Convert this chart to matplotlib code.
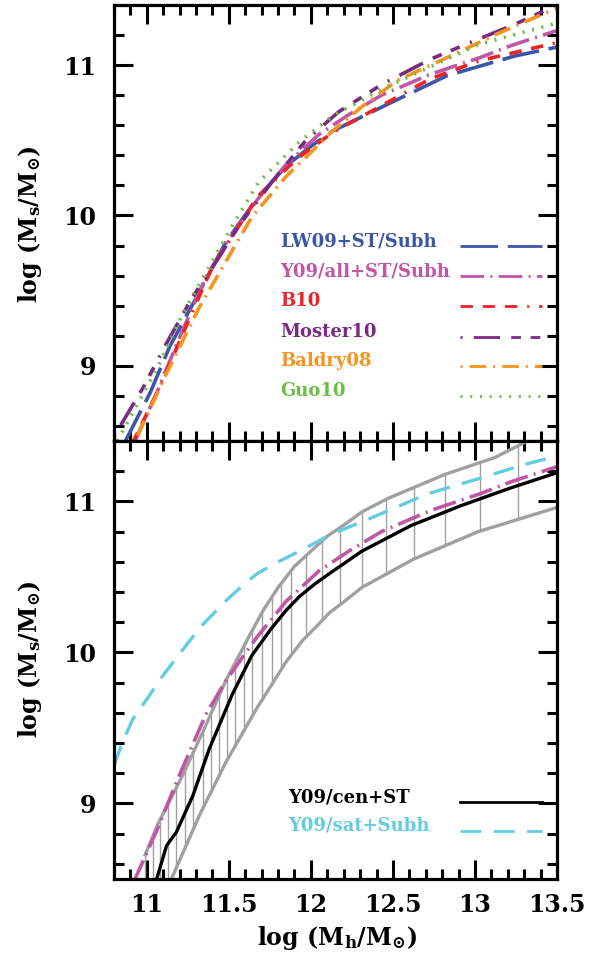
import numpy as np
import matplotlib
matplotlib.use("Agg")
import matplotlib.pyplot as plt
from matplotlib.ticker import MultipleLocator

# ---------------- data ----------------
# top panel
lw09_x = [10.86, 11.02, 11.14, 11.32, 11.48, 11.67, 11.85, 12.0, 12.13, 12.43, 12.83, 13.24, 13.5]
lw09_y = [8.48, 8.82, 9.13, 9.49, 9.82, 10.11, 10.33, 10.46, 10.56, 10.72, 10.93, 11.06, 11.12]

y09all_x = [10.92, 11.06, 11.20, 11.36, 11.48, 11.67, 11.85, 12.05, 12.23, 12.43, 12.73, 13.03, 13.22, 13.5]
y09all_y = [8.48, 8.82, 9.19, 9.59, 9.81, 10.10, 10.34, 10.54, 10.67, 10.80, 10.94, 11.05, 11.13, 11.23]

b10_x = [10.91, 11.08, 11.25, 11.40, 11.68, 11.85, 11.93, 12.13, 12.43, 12.73, 13.03, 13.5]
b10_y = [8.48, 8.86, 9.29, 9.66, 10.13, 10.31, 10.39, 10.55, 10.73, 10.91, 11.03, 11.15]

moster_x = [10.8, 10.98, 11.12, 11.28, 11.38, 11.56, 11.76, 11.97, 12.17, 12.43, 12.73, 12.97, 13.24, 13.5]
moster_y = [8.53, 8.86, 9.15, 9.46, 9.62, 9.93, 10.22, 10.50, 10.69, 10.87, 11.04, 11.15, 11.27, 11.40]

baldry_x = [10.92, 11.12, 11.32, 11.48, 11.64, 11.85, 12.0, 12.13, 12.33, 12.53, 12.83, 13.14, 13.5]
baldry_y = [8.48, 8.95, 9.39, 9.69, 9.99, 10.26, 10.42, 10.56, 10.74, 10.90, 11.05, 11.21, 11.38]

guo_x = [10.82, 11.07, 11.22, 11.36, 11.52, 11.68, 11.93, 12.13, 12.43, 12.73, 13.03, 13.5]
guo_y = [8.50, 9.0, 9.35, 9.62, 9.93, 10.22, 10.49, 10.66, 10.84, 10.99, 11.14, 11.28]

# bottom panel
cen_x = [11.06, 11.12, 11.18, 11.28, 11.38, 11.52, 11.64, 11.76, 11.85, 11.93, 12.02, 12.11, 12.31, 12.61, 12.91, 13.22, 13.5]
cen_y = [8.50, 8.72, 8.81, 9.05, 9.36, 9.72, 9.98, 10.16, 10.28, 10.37, 10.45, 10.52, 10.67, 10.84, 10.97, 11.09, 11.19]

sat_x = [10.8, 10.85, 10.915, 11.0, 11.10, 11.32, 11.48, 11.58, 11.67, 11.80, 11.93, 12.12, 12.41, 12.71, 13.02, 13.32, 13.5]
sat_y = [9.25, 9.40, 9.56, 9.69, 9.85, 10.16, 10.34, 10.44, 10.52, 10.60, 10.67, 10.78, 10.91, 11.05, 11.15, 11.25, 11.30]

upper_x = [10.99, 11.07, 11.22, 11.34, 11.48, 11.62, 11.71, 11.80, 11.90, 12.0, 12.10, 12.21, 12.31, 12.47, 12.82, 13.12, 13.32]
upper_y = [8.66, 8.87, 9.19, 9.47, 9.81, 10.10, 10.28, 10.43, 10.57, 10.67, 10.77, 10.85, 10.93, 11.02, 11.18, 11.29, 11.40]

lower_x = [11.0, 11.15, 11.32, 11.48, 11.67, 11.85, 11.95, 12.05, 12.11, 12.23, 12.31, 12.63, 13.02, 13.32, 13.5]
lower_y = [8.15, 8.50, 8.92, 9.27, 9.63, 9.94, 10.08, 10.19, 10.26, 10.36, 10.43, 10.62, 10.80, 10.90, 10.96]

hatch_x = [10.99, 11.04, 11.08, 11.13, 11.18, 11.23, 11.28, 11.34, 11.39, 11.44, 11.49,
           11.54, 11.59, 11.64, 11.70, 11.76, 11.82, 11.88, 11.97, 12.07, 12.18, 12.31,
           12.46, 12.63, 12.82, 13.03, 13.26]

top_labels = ["LW09+ST/Subh", "Y09/all+ST/Subh", "B10", "Moster10", "Baldry08", "Guo10"]
bot_labels = ["Y09/cen+ST", "Y09/sat+Subh"]

# ---------------- styles ----------------
C_BLUE = "#3B56A6"
C_PINK = "#C056A6"
C_RED = "#EC2227"
C_PURPLE = "#7A2A83"
C_ORANGE = "#F7941D"
C_GREEN = "#6ABD45"
C_CYAN = "#62CDE0"
C_GRAY = "#A0A0A0"

plt.rcParams["lines.scale_dashes"] = False
plt.rcParams["font.family"] = ["DejaVu Serif"]
plt.rcParams["font.weight"] = "bold"
plt.rcParams["mathtext.fontset"] = "dejavuserif"
plt.rcParams["mathtext.default"] = "bf"

D_BLUE = (0, (27, 7))
D_PINK = (0, (17, 4.5, 1.5, 4.5))
D_RED = (0, (9, 7, 9, 7, 9, 7, 1.5, 7))
D_PURPLE = (0, (1.5, 8, 19, 8, 7, 7, 7, 8))
D_ORANGE = (0, (1.5, 5, 12, 5))
D_GREEN = (0, (1.5, 5.5))
D_CYAN = (0, (15, 9))

W, H = 589, 956
fig = plt.figure(figsize=(W / 100, H / 100), dpi=100)
L, R = 114, 557
ax1 = fig.add_axes([L / W, (H - 441) / H, (R - L) / W, 436 / H])
ax2 = fig.add_axes([L / W, (H - 879) / H, (R - L) / W, 438 / H], sharex=ax1)

for ax in (ax1, ax2):
    ax.set_xlim(10.8, 13.5)
    ax.set_ylim(8.5, 11.4)
    ax.xaxis.set_major_locator(MultipleLocator(0.5))
    ax.xaxis.set_minor_locator(MultipleLocator(0.1))
    ax.yaxis.set_major_locator(MultipleLocator(1))
    ax.yaxis.set_minor_locator(MultipleLocator(0.2))
    ax.tick_params(which="both", direction="in", top=True, right=True, width=2.2)
    ax.tick_params(which="major", length=13.5)
    ax.tick_params(which="minor", length=7.5)
    ax.tick_params(axis="y", which="major", pad=13, labelsize=17)
    ax.tick_params(axis="x", which="major", pad=10, labelsize=17)
    for s in ax.spines.values():
        s.set_linewidth(2.3)
    ax.set_yticks([9, 10, 11])
    ax.set_yticklabels(["9", "10", "11"], fontweight="bold")

plt.setp(ax1.get_xticklabels(), visible=False)
ax2.set_xticks([11, 11.5, 12, 12.5, 13, 13.5])
ax2.set_xticklabels(["11", "11.5", "12", "12.5", "13", "13.5"], fontweight="bold")

# ---------------- top panel ----------------
top_series = [
    (lw09_x, lw09_y, C_BLUE, D_BLUE),
    (y09all_x, y09all_y, C_PINK, D_PINK),
    (b10_x, b10_y, C_RED, D_RED),
    (moster_x, moster_y, C_PURPLE, D_PURPLE),
    (baldry_x, baldry_y, C_ORANGE, D_ORANGE),
    (guo_x, guo_y, C_GREEN, D_GREEN),
]
for xs, ys, c, d in top_series:
    ax1.plot(xs, ys, color=c, linestyle=d, lw=2.6, solid_capstyle="butt", dash_capstyle="butt",
             solid_joinstyle="round", dash_joinstyle="round")

leg_y_px = [246, 276, 306, 337, 366, 396]
for (xs, ys, c, d), lab, py in zip(top_series, top_labels, leg_y_px):
    yf = (441 - py) / 436
    ax1.plot([(460 - L) / (R - L), (542 - L) / (R - L)], [yf, yf], transform=ax1.transAxes,
             color=c, linestyle=d, lw=2.0, clip_on=False)
    ax1.text((280 - L) / (R - L), yf, lab, transform=ax1.transAxes, color=c,
             fontsize=13, fontweight="bold", ha="left", va="baseline")

# ---------------- bottom panel ----------------
for xh in hatch_x:
    lo = np.interp(xh, lower_x, lower_y)
    hi = np.interp(xh, upper_x, upper_y)
    ax2.plot([xh, xh], [lo, hi], color=C_GRAY, lw=1.0)
ax2.plot(upper_x, upper_y, color=C_GRAY, lw=2.4, solid_joinstyle="round")
ax2.plot(lower_x, lower_y, color=C_GRAY, lw=2.4, solid_joinstyle="round")
ax2.plot(sat_x, sat_y, color=C_CYAN, linestyle=D_CYAN, lw=2.4)
ax2.plot(y09all_x, y09all_y, color=C_PINK, linestyle=D_PINK, lw=2.6)
ax2.plot(cen_x, cen_y, color="black", lw=2.4, solid_joinstyle="round")

bot_styles = [("black", "-"), (C_CYAN, D_CYAN)]
for (c, d), lab, py in zip(bot_styles, bot_labels, [802, 831]):
    yf = (879 - py) / 438
    ax2.plot([(460 - L) / (R - L), (542 - L) / (R - L)], [yf, yf], transform=ax2.transAxes,
             color=c, linestyle=d, lw=2.0, clip_on=False)
    ax2.text((288 - L) / (R - L), yf, lab, transform=ax2.transAxes, color=c,
             fontsize=13, fontweight="bold", ha="left", va="baseline")

# ---------------- axis labels ----------------
ylab = r"log (M$_{s}$/M$_{\odot}$)"
fig.text(30 / W, 1 - 224 / H, ylab, rotation=90, ha="center", va="center", fontsize=17, fontweight="bold")
fig.text(30 / W, 1 - 659 / H, ylab, rotation=90, ha="center", va="center", fontsize=17, fontweight="bold")
fig.text(337 / W, 1 - 938 / H, r"log (M$_{h}$/M$_{\odot}$)", ha="center", va="center",
         fontsize=17, fontweight="bold")

fig.savefig("out.png", dpi=100)
